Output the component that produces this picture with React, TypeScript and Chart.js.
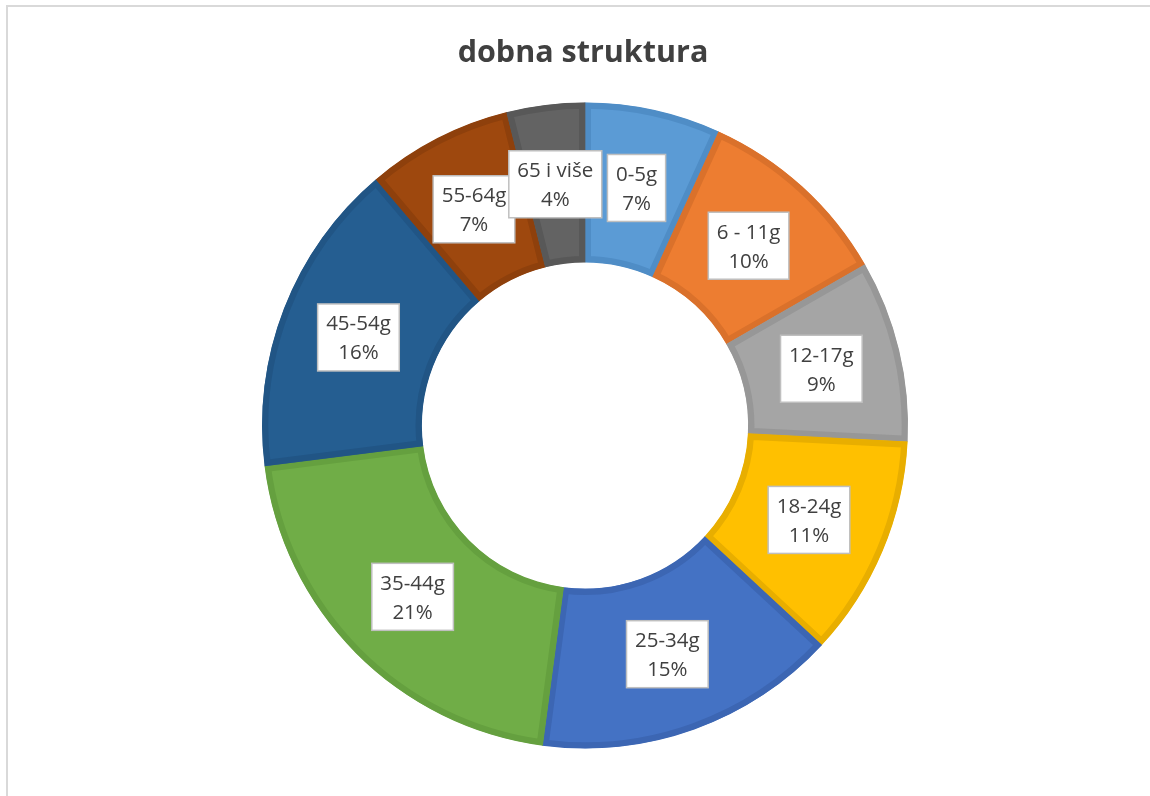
import React, { useEffect, useRef } from "react";
import { Chart, registerables } from "chart.js";

Chart.register(...registerables);

const TITLE = "dobna struktura";
const categories = ["0-5g", "6 - 11g", "12-17g", "18-24g", "25-34g", "35-44g", "45-54g", "55-64g", "65 i više"];
const shares = [6.8, 9.9, 9.1, 11.1, 15.2, 20.9, 15.8, 7.3, 3.9];
const fillColors = ["#5B9BD5", "#ED7D31", "#A5A5A5", "#FFC000", "#4472C4", "#70AD47", "#255E91", "#9E480E", "#636363"];
const edgeColors = ["#4F8DC6", "#DA712B", "#979797", "#E8AE00", "#3C66B3", "#65A03F", "#215585", "#8E400C", "#585858"];

const FONT = "'Open Sans', 'Noto Sans', sans-serif";

const framePlugin = {
  id: "frame",
  beforeDraw(chart: any) {
    const ctx = chart.ctx;
    ctx.save();
    ctx.fillStyle = "#FFFFFF";
    ctx.fillRect(0, 0, chart.width, chart.height);
    ctx.fillStyle = "#D9D9D9";
    ctx.fillRect(6, 5, chart.width, 2);
    ctx.fillRect(6, 5, 2, chart.height);
    ctx.fillStyle = "#404040";
    ctx.font = `bold 30.5px ${FONT}`;
    ctx.textAlign = "center";
    ctx.textBaseline = "alphabetic";
    ctx.fillText(TITLE, 583, 62);
    ctx.restore();
  },
};

const labelPlugin = {
  id: "boxLabels",
  afterDatasetsDraw(chart: any) {
    const ctx = chart.ctx;
    const meta = chart.getDatasetMeta(0);
    const data = chart.data.datasets[0].data as number[];
    const total = data.reduce((a: number, b: number) => a + b, 0);
    ctx.save();
    ctx.font = `20.5px ${FONT}`;
    meta.data.forEach((arc: any, i: number) => {
      const p = arc.getProps(["x", "y", "startAngle", "endAngle", "innerRadius", "outerRadius"], true);
      const mid = (p.startAngle + p.endAngle) / 2;
      const r = (p.innerRadius + p.outerRadius) / 2;
      const cx = p.x + Math.cos(mid) * r;
      const cy = p.y + Math.sin(mid) * r;
      const l1 = String(chart.data.labels[i]);
      const l2 = Math.round((data[i] / total) * 100) + "%";
      const w = Math.max(ctx.measureText(l1).width, ctx.measureText(l2).width) + 17;
      const h = 67;
      ctx.fillStyle = "#FFFFFF";
      ctx.fillRect(cx - w / 2, cy - h / 2, w, h);
      ctx.strokeStyle = "#BFBFBF";
      ctx.lineWidth = 1.5;
      ctx.strokeRect(cx - w / 2, cy - h / 2, w, h);
      ctx.fillStyle = "#404040";
      ctx.textAlign = "center";
      ctx.textBaseline = "alphabetic";
      ctx.fillText(l1, cx, cy - 14.5 + 7.5);
      ctx.fillText(l2, cx, cy + 14.5 + 7.5);
    });
    ctx.restore();
  },
};

export default function App() {
  const ref = useRef<HTMLCanvasElement | null>(null);
  useEffect(() => {
    document.body.style.margin = "0";
    const canvas = ref.current;
    if (!canvas) return;
    const chart = new Chart(canvas, {
      type: "doughnut",
      data: {
        labels: categories,
        datasets: [
          {
            data: shares,
            backgroundColor: fillColors,
            borderColor: edgeColors,
            borderWidth: 6,
            borderAlign: "inner",
            borderJoinStyle: "miter",
            hoverOffset: 0,
          } as any,
        ],
      },
      options: {
        responsive: false,
        animation: false,
        devicePixelRatio: 1,
        radius: 323,
        cutout: "50.5%",
        layout: { padding: { left: 20, right: 0, top: 55, bottom: 0 } },
        plugins: {
          legend: { display: false },
          title: { display: false },
          tooltip: { enabled: false },
        },
      } as any,
      plugins: [framePlugin, labelPlugin],
    });
    return () => chart.destroy();
  }, []);
  return (
    <div style={{ width: 1150, height: 796 }}>
      <canvas ref={ref} width={1150} height={796} style={{ display: "block", width: 1150, height: 796 }} />
    </div>
  );
}
